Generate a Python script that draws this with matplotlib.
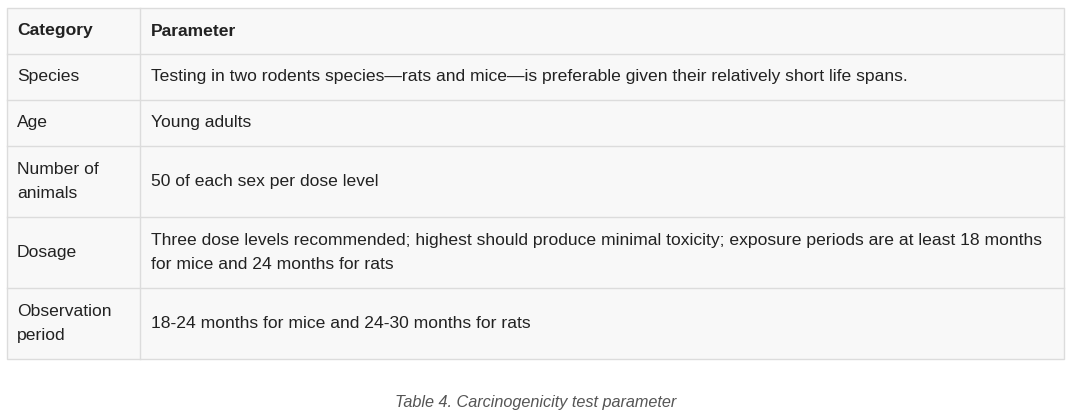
import matplotlib
matplotlib.use("Agg")
import matplotlib.pyplot as plt
from matplotlib.patches import Rectangle

header = ["Category", "Parameter"]
categories = ["Species", "Age", "Number of\nanimals", "Dosage", "Observation\nperiod"]
parameters = [
    "Testing in two rodents species\u2014rats and mice\u2014is preferable given their relatively short life spans.",
    "Young adults",
    "50 of each sex per dose level",
    "Three dose levels recommended; highest should produce minimal toxicity; exposure periods are at least 18 months\nfor mice and 24 months for rats",
    "18-24 months for mice and 24-30 months for rats",
]
caption = "Table 4. Carcinogenicity test parameter"

W, H = 1072, 420
fig = plt.figure(figsize=(W/100, H/100), dpi=100)
fig.patch.set_facecolor("white")
ax = fig.add_axes([0, 0, 1, 1])
ax.set_xlim(0, W); ax.set_ylim(H, 0); ax.axis("off")

rows_y = [8, 54, 100, 146, 217, 288, 359]
x0, xs, x1 = 7, 140, 1064
border = "#dcdcdc"
ax.add_patch(Rectangle((x0, rows_y[0]), x1-x0, rows_y[-1]-rows_y[0], facecolor="#f8f8f8", edgecolor=border, lw=1))
for y in rows_y[1:-1]:
    ax.plot([x0, x1], [y, y], color=border, lw=1)
ax.plot([xs, xs], [rows_y[0], rows_y[-1]], color=border, lw=1)

font = "Liberation Sans"
allrows = [header] + list(zip(categories, parameters))
for i, (c, p) in enumerate(allrows):
    yc = (rows_y[i] + rows_y[i+1]) / 2
    w = "bold" if i == 0 else "normal"
    kw = dict(va="center", ha="left", fontsize=12.6, family=font, weight=w, color="#222222", linespacing=1.7)
    ax.text(17, yc, c, **kw)
    ax.text(151, yc, p, **kw)

ax.text(536, 402, caption, ha="center", va="center", fontsize=11.7, style="italic", family=font, color="#555555")
fig.savefig("out.png", dpi=100, facecolor="white")
